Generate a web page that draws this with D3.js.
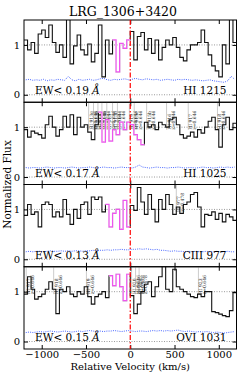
<!DOCTYPE html>
<html>
<head>
<meta charset="utf-8">
<script src="https://cdn.jsdelivr.net/npm/d3@7"></script>
<style>
  body { margin: 0; background: #fff; }
  text { font-family: "DejaVu Serif", serif; }
</style>
</head>
<body>
<div id="chart-area"></div>
<script>
// bin left edges (km/s), last bin ends at 1200
let velocity = [-1200, -1160, -1120, -1080, -1040, -1000, -960, -920, -880, -840,
    -800, -760, -720, -680, -640, -600, -560, -520, -480, -440,
    -400, -360, -320, -280, -240, -200, -160, -120, -80, -40,
    0, 40, 80, 120, 160, 200, 240, 280, 320, 360,
    400, 440, 480, 520, 560, 600, 640, 680, 720, 760,
    800, 840, 880, 920, 960, 1000, 1040, 1080, 1120, 1160];

let fluxHI1215 = [1.10, 0.90, 1.05, 0.83, 1.22, 1.30, 1.15, 1.40, 1.05, 0.85,
    1.00, 0.75, 1.55, 0.62, 0.98, 1.20, 0.90, 0.80, 1.02, 0.66,
    0.83, 1.40, 0.36, 1.10, 0.82, 1.10, 0.46, 1.03, 0.93, 1.10,
    1.27, 0.70, 1.17, 1.25, 0.90, 1.13, 0.83, 1.10, 0.70, 0.95,
    1.10, 1.00, 1.15, 0.95, 0.75, 0.68, 0.90, 1.00, 1.00, 1.05,
    1.30, 1.05, 0.80, 0.58, 0.48, 0.36, 1.00, 0.62, 1.55, 1.05];
let errHI1215 = [0.30, 0.31, 0.29, 0.30, 0.29, 0.31, 0.28, 0.30, 0.29, 0.31,
    0.30, 0.29, 0.37, 0.30, 0.28, 0.31, 0.29, 0.30, 0.31, 0.29,
    0.30, 0.32, 0.33, 0.30, 0.29, 0.31, 0.30, 0.31, 0.32, 0.30,
    0.31, 0.33, 0.31, 0.30, 0.32, 0.31, 0.30, 0.31, 0.29, 0.30,
    0.31, 0.30, 0.29, 0.31, 0.30, 0.31, 0.30, 0.29, 0.30, 0.29,
    0.28, 0.29, 0.30, 0.28, 0.27, 0.26, 0.25, 0.28, 0.37, 0.31];

let fluxHI1025 = [0.95, 0.80, 0.92, 0.88, 0.85, 0.78, 1.05, 1.22, 1.00, 0.82,
    0.95, 1.22, 1.00, 1.25, 0.85, 1.20, 1.00, 1.05, 0.90, 0.75,
    1.05, 1.30, 0.70, 1.15, 0.72, 0.95, 0.85, 1.10, 0.95, 1.10,
    1.05, 0.85, 0.75, 0.65, 1.10, 1.00, 1.05, 0.95, 1.10, 1.05,
    1.00, 1.15, 1.20, 1.05, 0.85, 0.78, 0.82, 0.90, 0.80, 0.95,
    0.88, 1.00, 1.12, 1.20, 0.95, 0.60, 1.05, 1.20, 0.95, 1.08];
let errHI1025 = [0.19, 0.18, 0.19, 0.19, 0.18, 0.19, 0.20, 0.19, 0.18, 0.19,
    0.19, 0.18, 0.19, 0.20, 0.19, 0.18, 0.19, 0.19, 0.20, 0.19,
    0.18, 0.19, 0.20, 0.19, 0.19, 0.18, 0.19, 0.20, 0.19, 0.19,
    0.18, 0.20, 0.24, 0.20, 0.19, 0.18, 0.19, 0.20, 0.19, 0.19,
    0.18, 0.19, 0.19, 0.20, 0.19, 0.18, 0.19, 0.19, 0.18, 0.19,
    0.20, 0.19, 0.19, 0.18, 0.19, 0.20, 0.19, 0.20, 0.19, 0.20];

let fluxCIII977 = [0.88, 1.10, 0.90, 0.95, 0.65, 1.10, 1.15, 1.10, 0.85, 0.95,
    0.85, 1.20, 0.90, 0.70, 1.00, 0.82, 1.10, 1.15, 0.90, 1.25,
    1.20, 1.25, 0.95, 1.10, 0.65, 0.92, 1.00, 0.60, 1.18, 0.65,
    1.08, 0.98, 1.44, 1.15, 0.90, 1.30, 1.00, 0.75, 1.20, 1.00,
    1.30, 1.10, 0.90, 1.05, 0.92, 1.10, 1.15, 1.30, 1.34, 1.05,
    0.65, 0.90, 0.88, 0.95, 0.80, 0.92, 0.75, 0.90, 0.85, 0.78];
let errCIII977 = [0.15, 0.16, 0.15, 0.16, 0.16, 0.15, 0.16, 0.17, 0.16, 0.16,
    0.17, 0.16, 0.17, 0.16, 0.17, 0.17, 0.16, 0.17, 0.17, 0.18,
    0.17, 0.18, 0.18, 0.19, 0.18, 0.19, 0.19, 0.20, 0.19, 0.19,
    0.20, 0.20, 0.21, 0.20, 0.21, 0.20, 0.19, 0.20, 0.18, 0.18,
    0.17, 0.16, 0.17, 0.16, 0.16, 0.15, 0.16, 0.15, 0.16, 0.15,
    0.15, 0.16, 0.15, 0.15, 0.16, 0.15, 0.15, 0.16, 0.15, 0.15];

let fluxOVI1031 = [0.95, 1.30, 1.05, 0.85, 0.90, 0.95, 1.05, 1.20, 1.05, 0.56,
    1.05, 1.00, 1.10, 0.95, 0.90, 1.00, 0.95, 1.10, 0.90, 0.75,
    0.90, 0.95, 1.00, 0.88, 1.32, 1.12, 1.35, 1.10, 0.82, 1.35,
    0.92, 0.56, 0.75, 1.00, 1.15, 1.20, 0.90, 1.10, 1.30, 1.55,
    1.05, 1.00, 1.45, 1.10, 1.05, 1.00, 0.95, 0.90, 0.88, 0.95,
    0.90, 1.00, 1.00, 0.60, 0.58, 0.55, 0.52, 0.50, 0.62, 0.98];
let errOVI1031 = [0.18, 0.19, 0.18, 0.19, 0.20, 0.19, 0.20, 0.21, 0.20, 0.19,
    0.20, 0.21, 0.20, 0.19, 0.20, 0.21, 0.20, 0.21, 0.22, 0.21,
    0.20, 0.21, 0.20, 0.21, 0.21, 0.22, 0.21, 0.20, 0.21, 0.22,
    0.21, 0.20, 0.21, 0.21, 0.20, 0.21, 0.22, 0.21, 0.22, 0.21,
    0.22, 0.21, 0.22, 0.23, 0.21, 0.20, 0.21, 0.20, 0.19, 0.20,
    0.19, 0.20, 0.19, 0.18, 0.19, 0.18, 0.17, 0.18, 0.19, 0.20];

let ions = ["HI 1215", "HI 1025", "CIII 977", "OVI 1031"];
let ewLimits = ["0.19", "0.17", "0.13", "0.15"];
let fluxes = [fluxHI1215, fluxHI1025, fluxCIII977, fluxOVI1031];
let errors = [errHI1215, errHI1025, errCIII977, errOVI1031];
// velocity window of the measured component
let windows = [[-200, 0], [-360, 160], [-280, 0], [-240, 0]];

// blended line markers
let markVelHI1025 = [-470, -415, -365, -320, -265, -200, -145, -10, 45, 185, 410, 655, 985];
let markIonHI1025 = ["HI 913g", "HI 913b", "HI 914", "HI 914b", "HI 915", "HI 915b", "HI 916",
    "HI 919", "HI 915c", "HI 915b", "HI 916", "HI 917", "HI 918"];
let markZHI1025 = ["z=0.646", "z=0.646", "z=0.646", "z=0.646", "z=0.646", "z=0.646", "z=0.646",
    "z=0.646", "z=0.646", "z=0.646", "z=0.646", "z=0.646", "z=0.646"];
let markVelCIII977 = [520];
let markIonCIII977 = ["HI 977"];
let markZCIII977 = ["z=0.478"];
let markVelOVI1031 = [-1175, -865, -495, 15, 60, 100, 770];
let markIonOVI1031 = ["HI 917", "HI 918", "HI 919", "HI 920", "HI 963", "HI 965", "HI 923"];
let markZOVI1031 = ["z=0.646", "z=0.646", "z=0.646", "z=0.646", "z=0.478", "z=0.478", "z=0.646"];
let markVel = [[], markVelHI1025, markVelCIII977, markVelOVI1031];
let markIon = [[], markIonHI1025, markIonCIII977, markIonOVI1031];
let markZ = [[], markZHI1025, markZCIII977, markZOVI1031];

let xTicks = [-1000, -500, 0, 500, 1000];
let yTicks = [0, 1];

let margin = {left: 24, right: 12.5, top: 20, bottom: 25};
let width = 249 - margin.left - margin.right,
    panelH = (374 - margin.top - margin.bottom) / 4;

let svg = d3.select("#chart-area")
    .append("svg")
    .attr("width", 249)
    .attr("height", 374)
    .append("g")
    .attr("transform", "translate(" + margin.left + ", " + margin.top + ")");

let x = d3.scaleLinear().domain([-1200, 1200]).range([0, width]);

let stepLine = d3.line()
    .x(function (d) { return x(d[0]); })
    .curve(d3.curveStepAfter);

// Title
svg.append("text")
    .attr("x", 99)
    .attr("y", -4)
    .attr("font-size", "12.5px")
    .attr("text-anchor", "middle")
    .text("LRG_1306+3420");

fluxes.forEach(function (flux, p) {
    let g = svg.append("g")
        .attr("transform", "translate(0," + (p * panelH) + ")");

    let y = d3.scaleLinear().domain([-0.15, 1.5]).range([panelH, 0]);
    stepLine.y(function (d) { return y(d[1]); });

    g.append("clipPath").attr("id", "clip" + p)
        .append("rect").attr("width", width).attr("height", panelH);
    let inner = g.append("g").attr("clip-path", "url(#clip" + p + ")");

    // reference levels
    [0, 1].forEach(function (lv) {
        inner.append("line")
            .attr("x1", 0).attr("x2", width)
            .attr("y1", y(lv)).attr("y2", y(lv))
            .attr("stroke", "#555")
            .attr("stroke-width", 0.6)
            .attr("stroke-dasharray", "1,1.5");
    });

    // blend markers
    markVel[p].forEach(function (v, i) {
        inner.append("line")
            .attr("x1", x(v)).attr("x2", x(v))
            .attr("y1", y(1.5)).attr("y2", y(0.95))
            .attr("stroke", "#999")
            .attr("stroke-width", 0.5);
        [markIon[p][i], markZ[p][i]].forEach(function (s, k) {
            inner.append("text")
                .attr("transform", "translate(" + (x(v) + 4 + k * 4) + "," + y(0.95) + ") rotate(-90)")
                .attr("font-size", "4.5px")
                .attr("fill", "#222")
                .text(s);
        });
    });

    let pts = velocity.map(function (v, i) { return [v, flux[i]]; });
    pts.push([1200, flux[flux.length - 1]]);

    inner.append("path")
        .attr("d", stepLine(pts))
        .attr("fill", "none")
        .attr("stroke", "#111")
        .attr("stroke-width", 1.1);

    let w = windows[p];
    let wpts = velocity.map(function (v, i) { return [v, flux[i]]; })
        .filter(function (d) { return d[0] >= w[0] && d[0] < w[1]; });
    wpts.push([w[1], wpts[wpts.length - 1][1]]);
    inner.append("path")
        .attr("d", stepLine(wpts))
        .attr("fill", "none")
        .attr("stroke", "#fff")
        .attr("stroke-width", 1.8);
    inner.append("path")
        .attr("d", stepLine(wpts))
        .attr("fill", "none")
        .attr("stroke", "#ee55ee")
        .attr("stroke-width", 1.2);

    // error spectrum
    let errLine = d3.line()
        .x(function (d, i) { return x(velocity[i] + 20); })
        .y(function (d) { return y(d); });
    inner.append("path")
        .attr("d", errLine(errors[p]))
        .attr("fill", "none")
        .attr("stroke", "#3355ff")
        .attr("stroke-width", 0.9)
        .attr("stroke-dasharray", "1,1.2");

    // texts
    g.append("text")
        .attr("x", 11).attr("y", y(0) - 0.5)
        .attr("font-size", "10.5px")
        .text("EW< " + ewLimits[p] + " ")
        .append("tspan").attr("font-style", "italic").text("Å");
    g.append("text")
        .attr("x", width - 10).attr("y", y(0) - 0.5)
        .attr("font-size", "10.5px")
        .attr("text-anchor", "end")
        .text(ions[p]);

    // axes
    let fmt = d3.format("d");
    g.append("g").attr("class", "axis")
        .attr("transform", "translate(0," + panelH + ")")
        .call(d3.axisBottom(x).tickValues(xTicks).tickSize(-4).tickPadding(2)
            .tickFormat(p === 3 ? function (d) { return fmt(d); } : ""));
    g.append("g").attr("class", "axis")
        .call(d3.axisTop(x).tickValues(xTicks).tickSize(-4).tickFormat(""));
    g.append("g").attr("class", "axis")
        .call(d3.axisLeft(y).tickValues(yTicks).tickSize(-4).tickPadding(4)
            .tickFormat(d3.format("d")));
    g.append("g").attr("class", "axis")
        .attr("transform", "translate(" + width + ",0)")
        .call(d3.axisRight(y).tickValues(yTicks).tickSize(-4).tickFormat(""));

    g.append("rect")
        .attr("width", width).attr("height", panelH)
        .attr("fill", "none")
        .attr("stroke", "#000")
        .attr("stroke-width", 1);
});

svg.selectAll(".axis path").remove();
svg.selectAll(".axis text")
    .attr("font-family", "DejaVu Serif")
    .attr("font-size", "10px")
    .attr("fill", "#000");
svg.selectAll(".axis line").attr("stroke", "#000");

// systemic velocity
svg.append("line")
    .attr("x1", x(0)).attr("x2", x(0))
    .attr("y1", 0).attr("y2", 4 * panelH)
    .attr("stroke", "#ff0000")
    .attr("stroke-width", 1.2)
    .attr("stroke-dasharray", "5,2,1.5,2");

// X Label
svg.append("text")
    .attr("x", width / 2)
    .attr("y", 4 * panelH + 21)
    .attr("font-size", "10px")
    .attr("text-anchor", "middle")
    .text("Relative Velocity (km/s)");

// Y Label
svg.append("text")
    .attr("x", -(2 * panelH))
    .attr("y", -13)
    .attr("font-size", "10.5px")
    .attr("text-anchor", "middle")
    .attr("transform", "rotate(-90)")
    .text("Normalized Flux");
</script>
</body>
</html>
